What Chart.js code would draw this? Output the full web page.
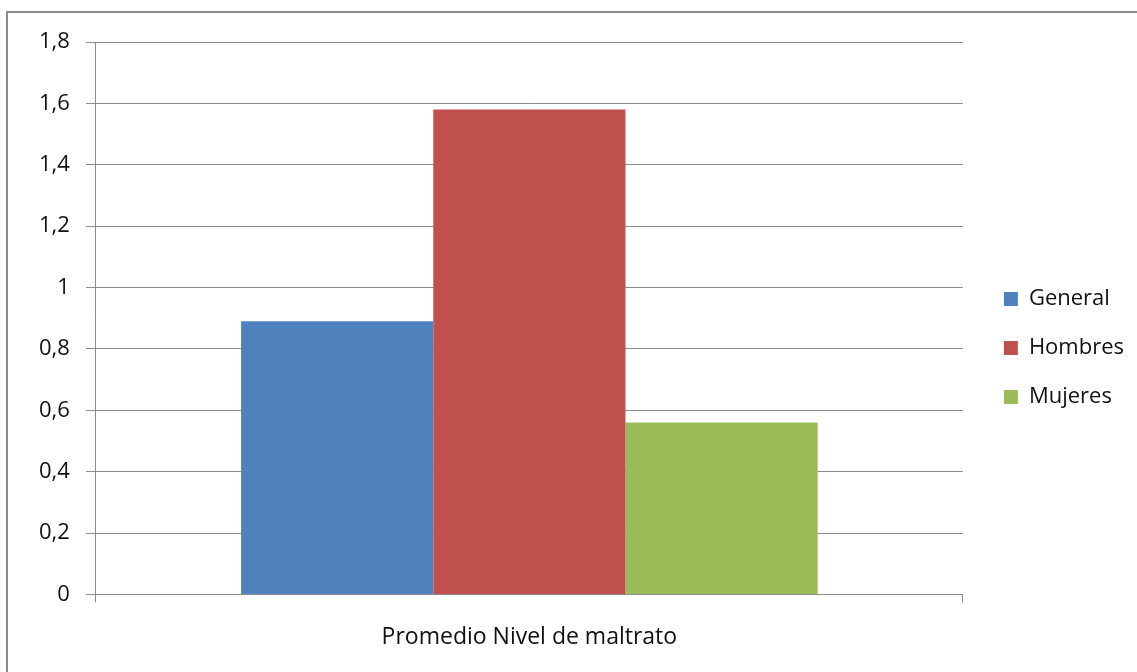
<!DOCTYPE html>
<html>
<head>
<meta charset="utf-8">
<script src="https://cdn.jsdelivr.net/npm/chart.js@4/dist/chart.umd.min.js"></script>
<style>
  html, body { margin: 0; padding: 0; background: #fff; }
  #wrap { position: relative; width: 1137px; height: 672px; overflow: hidden; }
  #frame { position: absolute; left: 6px; top: 11px; width: 1200px; height: 700px; border: 2px solid #8c8c8c; box-sizing: border-box; }
  #chart { position: absolute; left: 0; top: 0; }
</style>
</head>
<body>
<div id="wrap">
  <div id="frame"></div>
  <canvas id="chart" width="1137" height="672"></canvas>
</div>
<script>
/* ── datos ── */
const categorias = ['Promedio Nivel de maltrato'];
const series     = ['General', 'Hombres', 'Mujeres'];
const valores    = [[0.89], [1.58], [0.56]];
const colores    = ['#4F81BD', '#C0504D', '#9BBB59'];

const FONT = "'Open Sans', sans-serif";
const GRID = '#8c8c8c';

// ejes vacíos que solo reservan espacio alrededor del área del gráfico
const spacer = (pos, size) => ({
  position: pos,
  display: true,
  grid: { display: false },
  border: { display: false },
  ticks: { display: false },
  afterFit: s => { if (pos === 'top') s.height = size; else s.width = size; },
});

new Chart(document.getElementById('chart'), {
  type: 'bar',
  data: {
    labels: categorias,
    datasets: series.map((s, i) => ({
      label: s,
      data: valores[i],
      backgroundColor: colores[i],
      borderWidth: 0,
      categoryPercentage: 0.665,
      barPercentage: 1,
    })),
  },
  options: {
    responsive: false,
    animation: false,
    layout: { padding: { top: 24, left: 23, right: 3, bottom: 0 } },
    plugins: {
      legend: {
        position: 'right',
        labels: {
          color: '#111',
          font: { family: FONT, size: 22 },
          boxWidth: 14, boxHeight: 14,
          padding: 27,
        },
      },
      tooltip: { enabled: false },
    },
    scales: {
      x: {
        grid: { display: true, drawOnChartArea: false, color: GRID, tickLength: 8 },
        border: { color: GRID, width: 1 },
        ticks: { color: '#111', font: { family: FONT, size: 23 }, padding: 21 },
      },
      y: {
        min: 0, max: 1.8,
        grid: { color: GRID, tickLength: 10 },
        border: { color: GRID, width: 1 },
        ticks: {
          stepSize: 0.2,
          color: '#111',
          font: { family: FONT, size: 22 },
          padding: 16,
          callback: v => (Math.round(v * 10) / 10).toString().replace('.', ','),
        },
      },
      xTop: spacer('top', 18),
      yRight: spacer('right', 14),
    },
  },
});
</script>
</body>
</html>
